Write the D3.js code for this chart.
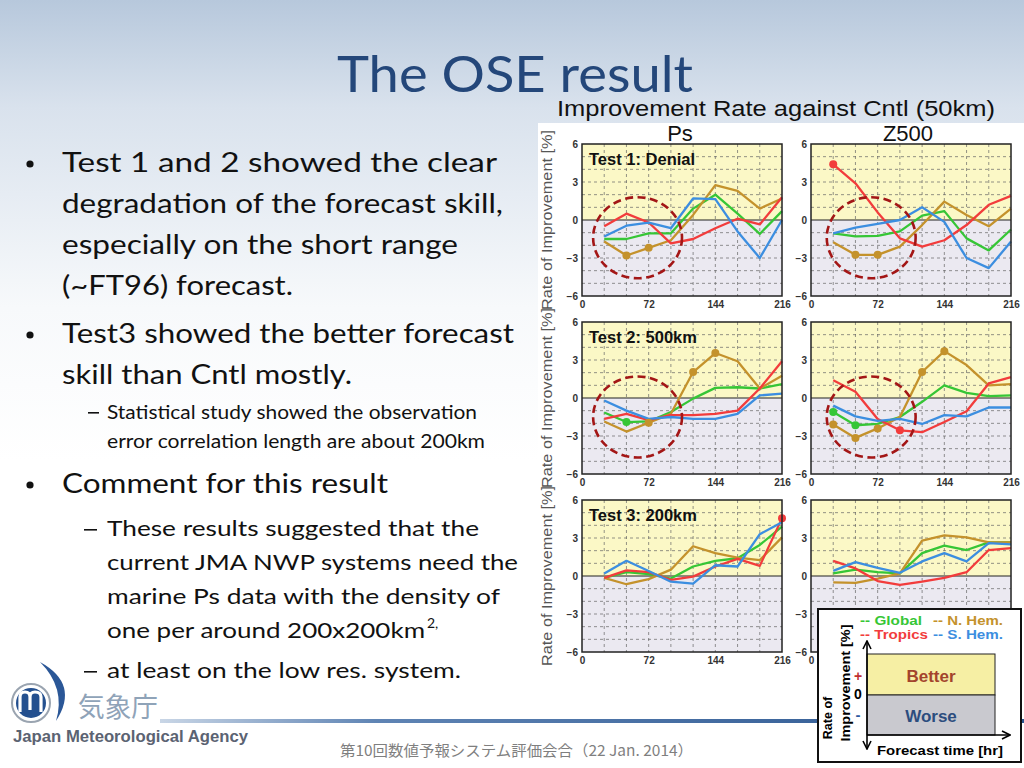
<!DOCTYPE html>
<html><head><meta charset="utf-8">
<script src="https://cdn.jsdelivr.net/npm/d3@7"></script>
<style>html,body{margin:0;padding:0;background:#fff}svg{display:block}</style>
</head><body>
<svg id="s" width="1024" height="768"></svg>
<script>
// ---------- data ----------
const FT = [24, 48, 72, 96, 120, 144, 168, 192, 216];
const xTicks = [0, 72, 144, 216];
const yTicks = [6, 3, 0, -3, -6];
const seriesNames = ["Global", "N. Hem.", "Tropics", "S. Hem."];
const seriesColors = ["#36c636", "#c4922c", "#f23c3c", "#3c8ee0"];

// Ps, Test 1: Denial
const psT1Global  = [-1.5, -1.5, -1.05, -1.05, 0.9, 2.0, 0.5, -1.1, 0.7];
const psT1NHem    = [-1.7, -2.8, -2.2, -1.6, 0.4, 2.75, 2.3, 0.9, 1.7];
const psT1Tropics = [-0.5, 0.5, -0.2, -1.85, -1.5, -0.65, 0.1, -0.35, 1.8];
const psT1SHem    = [-1.3, -0.45, -0.2, -0.65, 1.7, 1.65, -0.9, -3.0, 0.0];
// Z500, Test 1
const zT1Global  = [-1.05, -1.3, -1.25, -0.9, 0.35, 0.7, -1.45, -2.4, -0.75];
const zT1NHem    = [-1.75, -2.75, -2.75, -2.1, -0.4, 1.45, 0.4, -0.5, 0.9];
const zT1Tropics = [4.4, 2.9, 0.6, -1.45, -2.1, -1.6, -0.4, 1.2, 1.9];
const zT1SHem    = [-1.05, -0.6, -0.3, 0.0, 1.0, -0.15, -3.0, -3.8, -1.7];
// Ps, Test 2: 500km
const psT2Global  = [-1.15, -1.9, -1.85, -1.1, -0.05, 0.8, 0.85, 0.75, 1.1];
const psT2NHem    = [-1.85, -2.65, -1.95, -1.25, 2.05, 3.55, 2.9, 0.75, 1.75];
const psT2Tropics = [-1.65, -1.25, -1.75, -1.35, -1.35, -1.25, -1.0, 0.75, 2.9];
const psT2SHem    = [-0.2, -1.0, -1.65, -1.5, -1.65, -1.65, -1.25, 0.2, 0.35];
// Z500, Test 2
const zT2Global  = [-1.1, -2.15, -2.05, -1.5, -0.3, 1.0, 0.4, 0.15, 0.2];
const zT2NHem    = [-2.1, -3.15, -2.4, -1.5, 2.05, 3.7, 2.6, 1.0, 1.1];
const zT2Tropics = [1.4, 0.5, -1.65, -2.55, -2.7, -1.9, -1.05, 1.15, 1.65];
const zT2SHem    = [-0.6, -1.45, -1.8, -1.65, -2.05, -1.35, -1.45, -0.75, -0.75];
// Ps, Test 3: 200km
const psT3Global  = [-0.15, 0.3, 0.15, -0.2, 0.75, 1.2, 1.4, 2.45, 3.9];
const psT3NHem    = [-0.15, -0.65, -0.25, 0.5, 2.35, 1.8, 1.45, 1.25, 3.05];
const psT3Tropics = [-0.15, 0.45, 0.3, -0.3, -0.05, 0.75, 1.35, 0.8, 4.55];
const psT3SHem    = [0.2, 1.2, 0.4, -0.45, -0.6, 0.85, 0.75, 3.3, 4.25];
// Z500, Test 3
const zT3Global  = [0.2, 0.5, 0.3, 0.2, 1.8, 2.4, 2.05, 2.65, 2.65];
const zT3NHem    = [-0.5, -0.55, -0.2, 0.2, 2.8, 3.2, 3.05, 2.65, 2.65];
const zT3Tropics = [1.2, 0.6, -0.4, -0.7, -0.45, -0.15, 0.3, 2.05, 2.2];
const zT3SHem    = [0.4, 1.1, 0.65, 0.25, 1.15, 1.8, 1.15, 2.6, 2.5];

// significant-difference markers (forecast times), per series [Global, N.Hem, Tropics, S.Hem]
const psT1Marks = [[], [48, 72], [], []];
const zT1Marks  = [[], [48, 72], [24], []];
const psT2Marks = [[48], [72, 120, 144], [], []];
const zT2Marks  = [[24, 48], [24, 48, 72, 120, 144], [96], []];
const psT3Marks = [[], [], [216], []];
const zT3Marks  = [[], [], [], []];

// highlight circles: [centre FT, centre value, radius hours, radius %]
const psT1Circle = [60, -1.4, 48, 3.2];
const zT1Circle  = [65, -1.4, 48, 3.2];
const psT2Circle = [60, -1.5, 48, 3.2];
const zT2Circle  = [65, -1.5, 48, 3.2];

const panels = [
  {col:0,row:0,title:"Test 1: Denial",data:[psT1Global,psT1NHem,psT1Tropics,psT1SHem],marks:psT1Marks,circle:psT1Circle},
  {col:1,row:0,title:"",data:[zT1Global,zT1NHem,zT1Tropics,zT1SHem],marks:zT1Marks,circle:zT1Circle},
  {col:0,row:1,title:"Test 2: 500km",data:[psT2Global,psT2NHem,psT2Tropics,psT2SHem],marks:psT2Marks,circle:psT2Circle},
  {col:1,row:1,title:"",data:[zT2Global,zT2NHem,zT2Tropics,zT2SHem],marks:zT2Marks,circle:zT2Circle},
  {col:0,row:2,title:"Test 3: 200km",data:[psT3Global,psT3NHem,psT3Tropics,psT3SHem],marks:psT3Marks,circle:null},
  {col:1,row:2,title:"",data:[zT3Global,zT3NHem,zT3Tropics,zT3SHem],marks:zT3Marks,circle:null}
];

// ---------- drawing ----------
const svg = d3.select("#s");
const defs = svg.append("defs");
const bg = defs.append("linearGradient").attr("id","bg").attr("x1",0).attr("y1",0).attr("x2",0).attr("y2",1);
bg.append("stop").attr("offset","0%").attr("stop-color","#b7c8dc");
bg.append("stop").attr("offset","14%").attr("stop-color","#d9e2ed");
bg.append("stop").attr("offset","40%").attr("stop-color","#f7f9fb");
bg.append("stop").attr("offset","60%").attr("stop-color","#ffffff");
const ln = defs.append("linearGradient").attr("id","ln").attr("x1",0).attr("y1",0).attr("x2",1).attr("y2",0);
ln.append("stop").attr("offset","0%").attr("stop-color","#c9d6e6");
ln.append("stop").attr("offset","25%").attr("stop-color","#5f84b4");
ln.append("stop").attr("offset","100%").attr("stop-color","#2a558f");
const mk = defs.append("marker").attr("id","arr").attr("viewBox","0 0 10 10").attr("refX",9).attr("refY",5)
  .attr("markerWidth",10).attr("markerHeight",10).attr("markerUnits","userSpaceOnUse").attr("orient","auto-start-reverse");
mk.append("path").attr("d","M1,1 L9,5 L1,9").attr("fill","none").attr("stroke","#000").attr("stroke-width",1.6);

svg.append("rect").attr("width",1024).attr("height",768).attr("fill","url(#bg)");

// title
svg.append("text").text("The OSE result").attr("x",337).attr("y",92)
  .attr("font-family","Lato, 'Open Sans', sans-serif").attr("font-size",51).attr("fill","#24477a")
  .attr("textLength",356).attr("lengthAdjust","spacingAndGlyphs");

// bullet text
const body = "Lato, 'Open Sans', sans-serif";
const lines = [
  ["Test 1 and 2 showed the clear",62,172,435,26],
  ["degradation of the forecast skill,",62,213,441,26],
  ["especially on the short range",62,254,396,26],
  ["(~FT96) forecast.",62,295,231,26],
  ["Test3 showed the better forecast",62,343,452,26],
  ["skill than Cntl mostly.",62,384,290,26],
  ["Statistical study showed the observation",107,419,370,18.5],
  ["error correlation length are about 200km",107,448,378,18.5],
  ["Comment for this result",62,493,326,26],
  ["These results suggested that the",107,536,372,22],
  ["current JMA NWP systems need the",107,570,411,22],
  ["marine Ps data with the density of",107,604,393,22],
  ["one per around 200x200km",107,638,318,22],
  ["at least on the low res. system.",107,678,354,22]
];
lines.forEach(l => svg.append("text").text(l[0]).attr("x",l[1]).attr("y",l[2])
  .attr("font-family",body).attr("font-size",l[4]).attr("fill","#111")
  .attr("textLength",l[3]).attr("lengthAdjust","spacingAndGlyphs"));
svg.append("text").text("2,").attr("x",427).attr("y",628).attr("font-family",body).attr("font-size",14).attr("fill","#111");
[172,343,493].forEach(y => svg.append("circle").attr("cx",30).attr("cy",y-8).attr("r",3.6).attr("fill","#111"));
[[88,419,11],[84,536,13],[84,678,13]].forEach(d => svg.append("rect").attr("x",d[0]).attr("y",d[1]-7).attr("width",d[2]).attr("height",1.6).attr("fill","#111"));

// figure background
svg.append("rect").attr("x",538).attr("y",123).attr("width",486).attr("height",545).attr("fill","#ffffff");

const arial = "'Liberation Sans', Arial, sans-serif";
svg.append("text").text("Improvement Rate against Cntl (50km)").attr("x",557).attr("y",116)
  .attr("font-family",arial).attr("font-size",22).attr("fill","#111")
  .attr("textLength",438).attr("lengthAdjust","spacingAndGlyphs");
svg.append("text").text("Ps").attr("x",680).attr("y",141).attr("text-anchor","middle")
  .attr("font-family",arial).attr("font-size",22).attr("fill","#111");
svg.append("text").text("Z500").attr("x",908).attr("y",141).attr("text-anchor","middle")
  .attr("font-family",arial).attr("font-size",22).attr("fill","#111");

const colLeft = [582, 811], rowTop = [144, 322, 500], PW = 200, PH = 152;

// y-axis titles on left
rowTop.forEach(t => {
  svg.append("text").text("Rate of Improvement [%]")
    .attr("transform",`translate(552,${t+PH/2}) rotate(-90)`).attr("text-anchor","middle")
    .attr("font-family",arial).attr("font-size",15.5).attr("fill","#555")
    .attr("textLength",180).attr("lengthAdjust","spacingAndGlyphs");
});

const fmt = d => d < 0 ? "\u2212" + (-d) : String(d);

panels.forEach(p => {
  const L = colLeft[p.col], T = rowTop[p.row];
  const x = d3.scaleLinear().domain([0,216]).range([L, L+PW]);
  const y = d3.scaleLinear().domain([-6,6]).range([T+PH, T]);
  const g = svg.append("g");
  g.append("rect").attr("x",x(0)).attr("y",y(6)).attr("width",x(216)-x(0)).attr("height",y(0)-y(6)).attr("fill","#fbf8c6");
  g.append("rect").attr("x",x(0)).attr("y",y(0)).attr("width",x(216)-x(0)).attr("height",y(-6)-y(0)).attr("fill","#ebe9f1");
  // grid
  d3.range(24,216,24).forEach(v => g.append("line").attr("x1",x(v)).attr("x2",x(v)).attr("y1",y(6)).attr("y2",y(-6))
    .attr("stroke","#666").attr("stroke-width",0.7).attr("stroke-dasharray","3,3"));
  d3.range(-5,6,1).filter(v => v!==0).forEach(v => g.append("line").attr("x1",x(0)).attr("x2",x(216)).attr("y1",y(v)).attr("y2",y(v))
    .attr("stroke","#666").attr("stroke-width",0.7).attr("stroke-dasharray","3,3"));
  g.append("line").attr("x1",x(0)).attr("x2",x(216)).attr("y1",y(0)).attr("y2",y(0)).attr("stroke","#222").attr("stroke-width",1.2);
  // series
  const line = d3.line().x((d,i)=>x(FT[i])).y(d=>y(d));
  p.data.forEach((s,k) => {
    g.append("path").datum(s).attr("d",line).attr("fill","none").attr("stroke",seriesColors[k])
      .attr("stroke-width",2.3).attr("stroke-linejoin","round");
  });
  p.marks.forEach((m,k) => {
    m.forEach(ft => {
      const v = p.data[k][FT.indexOf(ft)];
      g.append("circle").attr("cx",x(ft)).attr("cy",y(v)).attr("r",4).attr("fill",seriesColors[k]);
    });
  });
  g.append("rect").attr("x",x(0)).attr("y",y(6)).attr("width",x(216)-x(0)).attr("height",y(-6)-y(6))
    .attr("fill","none").attr("stroke","#222").attr("stroke-width",1.5);
  // axes
  const ya = g.append("g").attr("transform",`translate(${x(0)},0)`)
    .call(d3.axisLeft(y).tickValues(yTicks).tickSize(0).tickPadding(4).tickFormat(fmt));
  const xa = g.append("g").attr("transform",`translate(0,${y(-6)})`)
    .call(d3.axisBottom(x).tickValues(xTicks).tickSize(0).tickPadding(5));
  [ya,xa].forEach(a => { a.select(".domain").remove();
    a.selectAll("text").attr("font-family",arial).attr("font-weight","bold").attr("font-size",10).attr("fill","#333"); });
  if (p.title) g.append("text").text(p.title).attr("x",L+7).attr("y",T+21)
    .attr("font-family",arial).attr("font-weight","bold").attr("font-size",16.5).attr("fill","#111");
  if (p.circle) {
    const c = p.circle;
    g.append("ellipse").attr("cx",x(c[0])).attr("cy",y(c[1]))
      .attr("rx",x(c[2])-x(0)).attr("ry",y(0)-y(c[3]))
      .attr("fill","none").attr("stroke","#a31616").attr("stroke-width",2.6).attr("stroke-dasharray","8,4.5");
  }
});

// bottom line
svg.append("rect").attr("x",160).attr("y",719).attr("width",864).attr("height",4).attr("fill","url(#ln)");

// footer
svg.append("text").text("第10回数値予報システム評価会合（22 Jan. 2014）").attr("x",340).attr("y",756)
  .attr("font-family","'Noto Sans CJK JP', sans-serif").attr("font-size",15).attr("fill","#7f7f7f")
  .attr("textLength",353).attr("lengthAdjust","spacingAndGlyphs");

// logo
const lg = svg.append("g");
lg.append("path").attr("d","M40,662 Q80,684 56,721 Q66,688 40,662 Z").attr("fill","#2b5797");
lg.append("circle").attr("cx",31).attr("cy",703).attr("r",19).attr("fill","#fff").attr("stroke","#9aa4b0").attr("stroke-width",2);
lg.append("circle").attr("cx",31).attr("cy",703).attr("r",15).attr("fill","#24508f");
lg.append("path").attr("d","M20,712 L20,697 Q20,692 25,692 Q30,692 30,697 L30,710 M30,697 Q30,692 35,692 Q41,692 41,697 L41,712")
  .attr("fill","none").attr("stroke","#fff").attr("stroke-width",3.2);
lg.append("text").text("気象庁").attr("x",78).attr("y",717).attr("font-family","'Noto Sans CJK JP', sans-serif")
  .attr("font-size",27).attr("fill","#8fa3b8").attr("textLength",80).attr("lengthAdjust","spacingAndGlyphs");
lg.append("text").text("Japan Meteorological Agency").attr("x",13).attr("y",742).attr("font-family",arial)
  .attr("font-weight","bold").attr("font-size",16).attr("fill","#5b6372").attr("textLength",235).attr("lengthAdjust","spacingAndGlyphs");

// legend / explanation box
const lb = svg.append("g");
lb.append("rect").attr("x",818).attr("y",609).attr("width",203).attr("height",153).attr("fill","#fff").attr("stroke","#111").attr("stroke-width",2);
const legPos = [[860,625],[933,625],[860,639],[933,639]];
const legW = [62,70,68,70];
seriesNames.forEach((n,i) => lb.append("text").text("-- " + n).attr("x",legPos[i][0]).attr("y",legPos[i][1])
  .attr("font-family",arial).attr("font-weight","bold").attr("font-size",12.5).attr("fill",seriesColors[i])
  .attr("textLength",legW[i]).attr("lengthAdjust","spacingAndGlyphs"));
lb.append("rect").attr("x",867).attr("y",654).attr("width",128).attr("height",41).attr("fill","#f6efa4").attr("stroke","#222").attr("stroke-width",1);
lb.append("rect").attr("x",867).attr("y",695).attr("width",128).attr("height",40).attr("fill","#c9c9cf").attr("stroke","#222").attr("stroke-width",1);
lb.append("text").text("Better").attr("x",931).attr("y",682).attr("text-anchor","middle").attr("font-family",arial)
  .attr("font-weight","bold").attr("font-size",17).attr("fill","#a3442c");
lb.append("text").text("Worse").attr("x",931).attr("y",722).attr("text-anchor","middle").attr("font-family",arial)
  .attr("font-weight","bold").attr("font-size",17).attr("fill","#2c4d7e");
lb.append("line").attr("x1",867).attr("y1",735).attr("x2",1010).attr("y2",735).attr("stroke","#000").attr("stroke-width",1.6).attr("marker-end","url(#arr)");
lb.append("line").attr("x1",867).attr("y1",749).attr("x2",867).attr("y2",641).attr("stroke","#000").attr("stroke-width",1.6)
  .attr("marker-end","url(#arr)").attr("marker-start","url(#arr)");
lb.append("text").text("Forecast time [hr]").attr("x",877).attr("y",755).attr("font-family",arial)
  .attr("font-weight","bold").attr("font-size",13).attr("fill","#000").attr("textLength",126).attr("lengthAdjust","spacingAndGlyphs");
lb.append("text").text("+").attr("x",858).attr("y",681).attr("text-anchor","middle").attr("font-family",arial).attr("font-weight","bold").attr("font-size",14).attr("fill","#c03030");
lb.append("text").text("0").attr("x",858).attr("y",699).attr("text-anchor","middle").attr("font-family",arial).attr("font-weight","bold").attr("font-size",14).attr("fill","#000");
lb.append("text").text("-").attr("x",858).attr("y",720).attr("text-anchor","middle").attr("font-family",arial).attr("font-weight","bold").attr("font-size",15).attr("fill","#2c5aa0");
lb.append("text").text("Rate of").attr("transform","translate(832,718) rotate(-90)").attr("text-anchor","middle")
  .attr("font-family",arial).attr("font-weight","bold").attr("font-size",12.5).attr("fill","#000");
lb.append("text").text("Improvement [%]").attr("transform","translate(850,683) rotate(-90)").attr("text-anchor","middle")
  .attr("font-family",arial).attr("font-weight","bold").attr("font-size",12.5).attr("fill","#000")
  .attr("textLength",117).attr("lengthAdjust","spacingAndGlyphs");
</script>
</body></html>
